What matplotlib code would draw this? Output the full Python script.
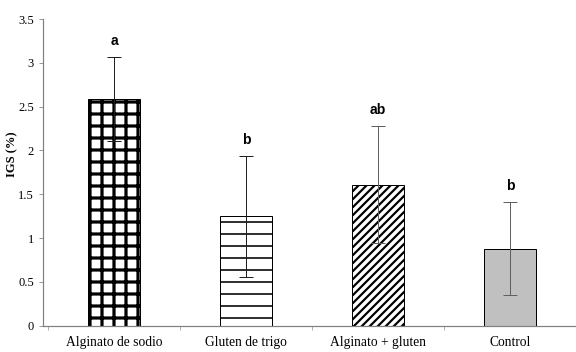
import matplotlib
matplotlib.use('Agg')
from matplotlib import pyplot as plt
import numpy as np

categorias = ['Alginato de sodio', 'Gluten de trigo', 'Alginato + gluten', 'Control']
igs = [2.59, 1.25, 1.61, 0.88]
err = [0.48, 0.69, 0.67, 0.53]
letras = ['a', 'b', 'ab', 'b']

hatches = ['+', '-', '///', '']
hatch_lw = [3.2, 1.6, 2.2, 1.0]
colores = ['white', 'white', 'white', '#c0c0c0']
err_col = ['#202020', '#202020', '#606060', '#606060']

plt.rcParams['font.family'] = 'Liberation Serif'
plt.rcParams['hatch.color'] = 'black'

fig = plt.figure(figsize=(8, 352 / 72), dpi=72)
ax = fig.add_axes([43 / 576, 1 - 325.7 / 352, 1 - 43 / 576, (325.7 - 19) / 352])

x = np.arange(len(categorias))
for i in range(len(categorias)):
    b = ax.bar(x[i], igs[i], width=0.4, color=colores[i], edgecolor='black',
               linewidth=1.0, hatch=hatches[i], zorder=2)
    for p in b:
        p.set_hatch_linewidth(hatch_lw[i])
    ax.errorbar(x[i], igs[i], yerr=err[i], fmt='none', ecolor=err_col[i],
                elinewidth=1.0, capsize=7, capthick=1.0, zorder=3)
    ax.text(x[i], igs[i] + err[i] + 0.1, letras[i], ha='center', va='bottom',
            fontsize=14, fontweight='bold', family='Liberation Sans')

ax.set_xlim(-0.538, 3.5)
ax.set_ylim(0, 3.5)
ax.set_yticks(np.arange(0, 3.51, 0.5))
ax.set_yticklabels(['0', '0.5', '1', '1.5', '2', '2.5', '3', '3.5'])
ax.set_xticks(x)
ax.set_xticklabels(categorias)
ax.set_xticks(np.arange(-0.5, 3.6, 1), minor=True)
ax.tick_params(axis='x', which='major', length=0, pad=10, labelsize=13.5)
ax.tick_params(axis='x', which='minor', length=4, color='#808080', direction='out')
ax.tick_params(axis='y', length=4, color='#808080', labelsize=12.5, pad=5)

for s in ['top', 'right']:
    ax.spines[s].set_visible(False)
for s in ['left', 'bottom']:
    ax.spines[s].set_color('#808080')
    ax.spines[s].set_linewidth(1.2)

ax.set_ylabel('IGS (%)', fontweight='bold', fontsize=12.5)
ax.yaxis.set_label_coords(-0.047, 0.56)

fig.savefig('out.png', dpi=72)
